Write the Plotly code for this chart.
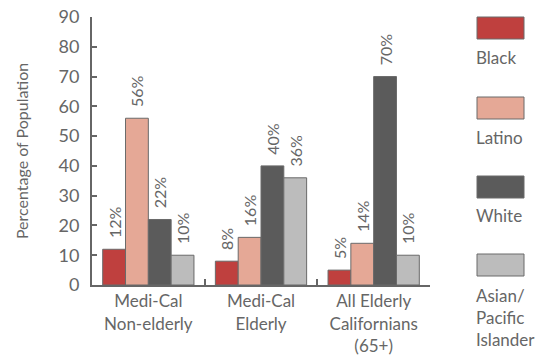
import plotly.graph_objects as go

categories = ["Medi-Cal<br>Non-elderly", "Medi-Cal<br>Elderly", "All Elderly<br>Californians<br>(65+)"]
series_names = ["Black", "Latino", "White", "Asian/<br>Pacific<br>Islander"]
black = [12, 8, 5]
latino = [56, 16, 14]
white = [22, 40, 70]
asian = [10, 36, 10]
colors = ["#bf403e", "#e5a896", "#5b5b5b", "#bcbcbc"]
y_ticks = [0, 10, 20, 30, 40, 50, 60, 70, 80, 90]

W, H = 545, 360
L, R, T, B = 92, 115, 17, 75
FONT = "Lato, 'Open Sans', sans-serif"
GRAY = "#666666"

fig = go.Figure()
for name, vals, col in zip(series_names, [black, latino, white, asian], colors):
    fig.add_trace(go.Bar(
        x=categories, y=vals, name=name,
        marker=dict(color=col, line=dict(color="#6a6a6a", width=1)),
        text=["\u00a0\u00a0" + f"{v}%" for v in vals],
        textposition="outside", textangle=-90, constraintext="none",
        textfont=dict(family=FONT, size=16, color=GRAY),
        cliponaxis=False, showlegend=False,
    ))

fig.update_layout(
    width=W, height=H, barmode="group", bargap=0.19, bargroupgap=0,
    margin=dict(l=L, r=R, t=T, b=B, autoexpand=False),
    paper_bgcolor="white", plot_bgcolor="white",
    font=dict(family=FONT, color=GRAY, size=16),
)
fig.update_xaxes(
    showline=True, linecolor=GRAY, linewidth=2, automargin=False,
    ticks="inside", tickson="boundaries", ticklen=6, tickwidth=2, tickcolor=GRAY,
    tickfont=dict(size=17, color=GRAY), showgrid=False, mirror=False,
)
fig.update_yaxes(
    range=[0, 90], tickvals=y_ticks, showline=True, linecolor=GRAY, linewidth=2,
    automargin=False,
    ticks="inside", ticklen=5, tickwidth=2, tickcolor=GRAY, showgrid=False, zeroline=False,
    tickfont=dict(size=18, color=GRAY), ticklabelstandoff=7,
    title=dict(text="Percentage of Population", font=dict(size=16, color=GRAY), standoff=26),
)

def px_x(x):
    return (x - L) / (W - L - R)

def px_y(y):
    return 1 - (y - T) / (H - T - B)

leg_squares = [17, 97, 176, 254]
leg_labels_y = [45, 125, 203, 283]
for name, col, sy, ly in zip(series_names, colors, leg_squares, leg_labels_y):
    fig.add_shape(type="rect", xref="paper", yref="paper",
                  x0=px_x(477), x1=px_x(524), y0=px_y(sy + 22), y1=px_y(sy),
                  fillcolor=col, line=dict(color="#6a6a6a", width=1))
    fig.add_annotation(xref="paper", yref="paper", x=px_x(474), y=px_y(ly),
                       xanchor="left", yanchor="top", align="left", showarrow=False,
                       text=name, font=dict(size=17, color=GRAY, family=FONT))

fig.write_html("out.html")
